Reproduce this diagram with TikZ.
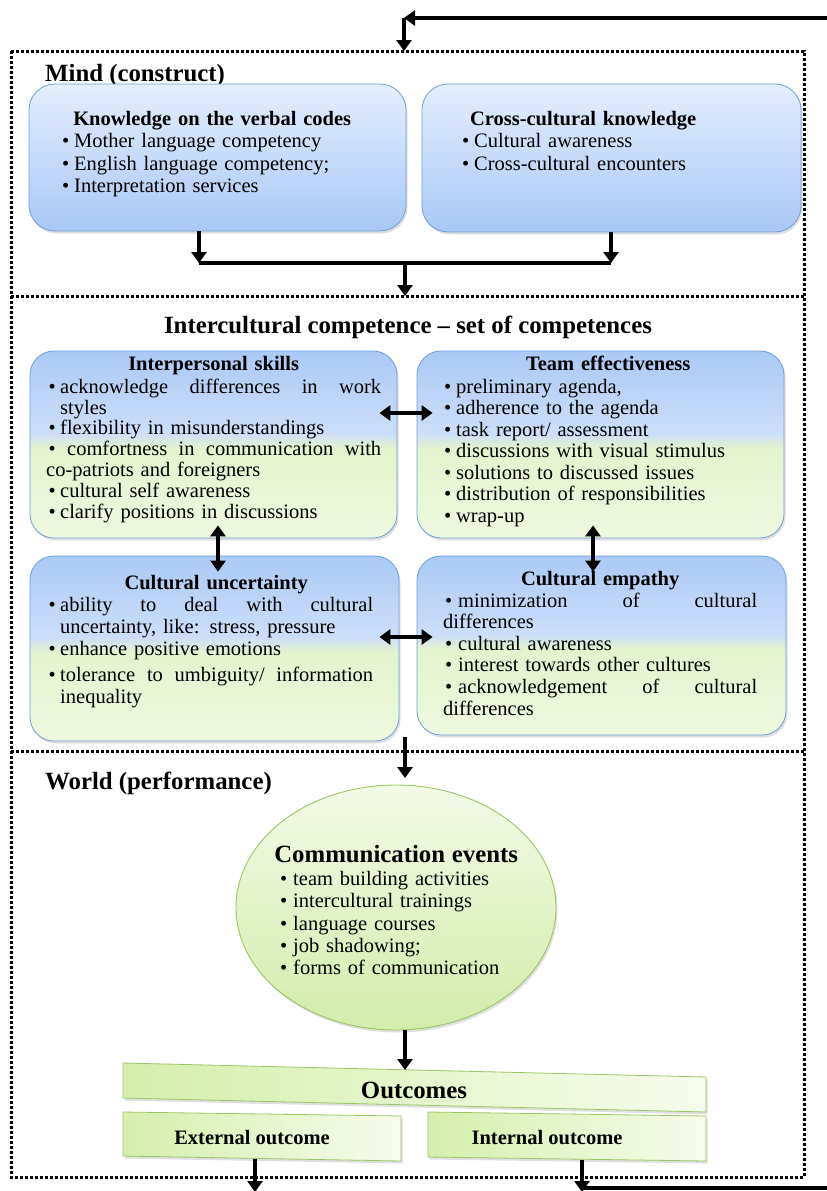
\documentclass[tikz,border=0pt]{standalone}
\usepackage{fontspec}
\setmainfont{Liberation Serif}
\usetikzlibrary{arrows.meta,shapes.geometric,shadows,calc}

\definecolor{mtop}{HTML}{E4EEFD}
\definecolor{mbot}{HTML}{A9C8F6}
\definecolor{bedge}{HTML}{6E9ED8}
\definecolor{btop}{HTML}{AACAF6}
\definecolor{bmid}{HTML}{CCDEF9}
\definecolor{gmid}{HTML}{E4F4CC}
\definecolor{gbot}{HTML}{EEF8E0}
\definecolor{gedge}{HTML}{9CC563}
\definecolor{elltop}{HTML}{F3FAE6}
\definecolor{ellbot}{HTML}{D3ECAB}
\definecolor{barl}{HTML}{D6EFAC}
\definecolor{barr}{HTML}{F6FCEC}

\pgfdeclareverticalshading{bluegreen}{100bp}{color(0bp)=(gbot); color(25bp)=(gbot); color(49bp)=(gmid); color(53bp)=(bmid); color(75bp)=(btop); color(100bp)=(btop)}

\newcommand{\bmk}{\makebox[12pt][l]{•}}
\newcommand{\jline}[2]{\makebox[#1][s]{\spaceskip=0pt\xspaceskip=0pt #2}}

\begin{document}
\begin{tikzpicture}[x=1pt,y=-1pt,
  arr/.style={line width=3.3pt,-{Triangle[width=15pt,length=11pt]}},
  darr/.style={line width=3.3pt,{Triangle[width=15pt,length=11pt]}-{Triangle[width=15pt,length=11pt]}},
  plain/.style={line width=3.3pt},
  frame/.style={line width=3pt,dash pattern=on 3pt off 2pt},
  shadowed/.style={drop shadow={opacity=0.25,shadow xshift=1.5pt,shadow yshift=-2.5pt}},
  mbox/.style={shadowed,draw=bedge,line width=0.8pt,rounded corners=26pt,top color=mtop,bottom color=mbot},
  cbox/.style={shadowed,draw=bedge,line width=0.8pt,rounded corners=24pt,shade,shading=bluegreen},
  ell/.style={shadowed,ellipse,draw=gedge,line width=0.9pt,top color=elltop,bottom color=ellbot},
  bar/.style={shadowed,draw=gedge,line width=0.8pt,left color=barl,right color=barr},
  txt/.style={inner sep=0pt,align=left,anchor=north west},
  head/.style={inner sep=0pt,font=\fontsize{24.8}{28}\selectfont\bfseries},
  btxt/.style={inner sep=0pt,font=\fontsize{20.5}{24}\selectfont\bfseries}
]
\useasboundingbox (0,0) rectangle (827,1191);

% ---------- frames ----------
\coordinate (f1) at (11,51);
\coordinate (f3) at (804,1177);
\draw[frame] (f1) rectangle (f3);
\coordinate (s1l) at (11,296);
\coordinate (s1r) at (804,296);
\coordinate (s2l) at (11,751);
\coordinate (s2r) at (804,751);
\draw[frame] (s1l) -- (s1r);
\draw[frame] (s2l) -- (s2r);

% ---------- feedback loop top ----------
\coordinate (rt) at (830,18);
\coordinate (tl) at (404,18);
\coordinate (mt) at (404,51);
\draw[arr] (rt) -- (tl);
\draw[arr] (tl) -- (mt);

% ---------- Mind ----------
\node[head,anchor=base west] (mindT) at (45,81) {Mind (construct)};

\node[mbox,minimum width=377,minimum height=147] (kv) at (217.5,157.5) {};
\node[mbox,minimum width=379,minimum height=148] (cc) at (611.5,158) {};

\node[txt,text width=300pt,font=\fontsize{20.5}{22.3}\selectfont] (kvT) at (62,111)
 {\makebox[\hsize][c]{\bfseries Knowledge on the verbal codes}\\
  \bmk Mother language competency\\
  \bmk English language competency;\\
  \bmk Interpretation services};
\node[txt,text width=242pt,font=\fontsize{20.5}{22.3}\selectfont] (ccT) at (462,111)
 {\makebox[\hsize][c]{\bfseries Cross-cultural knowledge}\\
  \bmk Cultural awareness\\
  \bmk Cross-cultural encounters};

\coordinate (j1) at (199,263);
\coordinate (j2) at (611,263);
\coordinate (jm) at (405,263);
\coordinate (jb) at (405,296);
\draw[arr] (kv.south -| j1) -- (j1);
\draw[arr] (cc.south -| j2) -- (j2);
\draw[plain] (j1) -- (j2);
\draw[arr] (jm) -- (jb);

% ---------- Intercultural competence ----------
\node[head,anchor=base] (icT) at (408,333) {Intercultural competence – set of competences};

\node[cbox,minimum width=367,minimum height=187] (is) at (213.5,444.5) {};
\node[cbox,minimum width=367,minimum height=187] (te) at (600.5,444.5) {};
\node[cbox,minimum width=369,minimum height=185] (cu) at (214.5,648.5) {};
\node[cbox,minimum width=369,minimum height=179] (ce) at (601.5,645.5) {};

\node[txt,text width=335pt,font=\fontsize{20.5}{20.8}\selectfont] (isT) at (46,356)
 {\makebox[\hsize][c]{\bfseries Interpersonal skills}\\[2pt]
  \hspace*{2.5pt}\makebox[11.5pt][l]{•}\jline{321pt}{acknowledge differences in work}\\
  \hspace*{14pt}styles\\
  \hspace*{2.5pt}\makebox[11.5pt][l]{•}flexibility in misunderstandings\\
  \hspace*{2.5pt}\jline{332.5pt}{• comfortness in communication with}\\
  co-patriots and foreigners\\
  \hspace*{2.5pt}\makebox[11.5pt][l]{•}cultural self awareness\\
  \hspace*{2.5pt}\makebox[11.5pt][l]{•}clarify positions in discussions};

\node[txt,text width=330pt,font=\fontsize{20.5}{21.5}\selectfont] (teT) at (443,356)
 {\makebox[\hsize][c]{\bfseries Team effectiveness}\\[1pt]
  \hspace*{1pt}\makebox[12pt][l]{•}preliminary agenda,\\
  \hspace*{1pt}\makebox[12pt][l]{•}adherence to the agenda\\
  \hspace*{1pt}\makebox[12pt][l]{•}task report/ assessment\\
  \hspace*{1pt}\makebox[12pt][l]{•}discussions with visual stimulus\\
  \hspace*{1pt}\makebox[12pt][l]{•}solutions to discussed issues\\
  \hspace*{1pt}\makebox[12pt][l]{•}distribution of responsibilities\\
  \hspace*{1pt}\makebox[12pt][l]{•}wrap-up};

\node[txt,text width=340pt,font=\fontsize{20.5}{22}\selectfont] (cuT) at (46,575)
 {\makebox[\hsize][c]{\bfseries Cultural uncertainty}\\
  \hspace*{2.5pt}\makebox[11.5pt][l]{•}\jline{313pt}{ability to deal with cultural}\\
  \hspace*{14pt}uncertainty, like: stress, pressure\\
  \hspace*{2.5pt}\makebox[11.5pt][l]{•}enhance positive emotions\\[4pt]
  \hspace*{2.5pt}\makebox[11.5pt][l]{•}\jline{313pt}{tolerance to umbiguity/ information}\\
  \hspace*{14pt}inequality};

\node[txt,text width=314pt,font=\fontsize{20.5}{21.6}\selectfont] (ceT) at (443,571)
 {\makebox[\hsize][c]{\bfseries Cultural empathy}\\
  \hspace*{2pt}\makebox[13pt][l]{•}\jline{299pt}{minimization of cultural}\\
  differences\\
  \hspace*{2pt}\makebox[13pt][l]{•}cultural awareness\\
  \hspace*{2pt}\makebox[13pt][l]{•}interest towards other cultures\\
  \hspace*{2pt}\makebox[13pt][l]{•}\jline{299pt}{acknowledgement of cultural}\\
  differences};

\draw[darr] ($(is.east)+(-18,-31.5)$) -- ($(te.west)+(16,-31.5)$);
\draw[darr] ($(cu.east)+(-20,-11.5)$) -- ($(ce.west)+(16,-8.5)$);
\draw[darr] ($(is.south)+(4.5,-13)$) -- ($(cu.north)+(3.5,16)$);
\draw[darr] ($(te.south)+(-7.5,-13)$) -- ($(ce.north)+(-8.5,16)$);

\coordinate (w1) at (405,737);
\coordinate (w2) at (405,778);
\draw[arr] (w1) -- (w2);

% ---------- World ----------
\node[head,anchor=base west] (worldT) at (45,789) {World (performance)};

\node[ell,minimum width=320,minimum height=245] (ev) at (396,907.5) {};
\node[txt,text width=236pt,font=\fontsize{20.5}{22.2}\selectfont] (evT) at (278,845)
 {\makebox[\hsize][c]{\fontsize{24.8}{28}\selectfont\bfseries Communication events}\\[1pt]
  \hspace*{2pt}\makebox[13pt][l]{•}team building activities\\
  \hspace*{2pt}\makebox[13pt][l]{•}intercultural trainings\\
  \hspace*{2pt}\makebox[13pt][l]{•}language courses\\
  \hspace*{2pt}\makebox[13pt][l]{•}job shadowing;\\
  \hspace*{2pt}\makebox[13pt][l]{•}forms of communication};

\coordinate (oa) at (123,1063);
\coordinate (ob) at (706,1077);
\coordinate (oc) at (706,1112);
\coordinate (od) at (123,1098);
\draw[bar] (oa) -- (ob) -- (oc) -- (od) -- cycle;
\node[head,anchor=base] (outT) at (414,1098) {Outcomes};

\coordinate (ea) at (123,1112);
\coordinate (eb) at (401,1116);
\coordinate (ec) at (401,1161);
\coordinate (ed) at (123,1156);
\draw[bar] (ea) -- (eb) -- (ec) -- (ed) -- cycle;
\node[btxt,anchor=base] (extT) at (252,1144) {External outcome};

\coordinate (ia) at (428,1112);
\coordinate (ib) at (706,1116);
\coordinate (ic) at (706,1161);
\coordinate (id) at (428,1157);
\draw[bar] (ia) -- (ib) -- (ic) -- (id) -- cycle;
\node[btxt,anchor=base] (intT) at (547,1144) {Internal outcome};

\coordinate (oarr) at (405,1070);
\draw[arr] (ev.south -| oarr) -- (oarr);

\coordinate (x1) at (255,1159);
\coordinate (x2) at (255,1192);
\draw[arr] (x1) -- (x2);
\coordinate (y1) at (582,1160);
\coordinate (y2) at (582,1192);
\coordinate (y3) at (582,1188);
\coordinate (y4) at (830,1188);
\draw[arr] (y1) -- (y2);
\draw[plain] (y3) -- (y4);
\end{tikzpicture}
\end{document}
